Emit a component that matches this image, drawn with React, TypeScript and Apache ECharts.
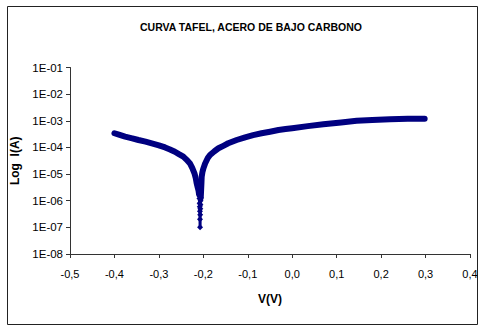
import React, { useEffect, useRef } from "react";
import * as echarts from "echarts";

const title = "CURVA TAFEL, ACERO DE BAJO CARBONO";
const xName = "V(V)";
const yName = "Log  I(A)";

// cathodic branch (left)
const leftV = [-0.4, -0.39, -0.376, -0.36, -0.346, -0.33, -0.316, -0.3, -0.286, -0.275, -0.264, -0.255, -0.245, -0.238, -0.23, -0.225, -0.22, -0.217, -0.215, -0.213, -0.211, -0.2095];
const leftI = [3.4e-4, 3.0e-4, 2.55e-4, 2.2e-4, 1.9e-4, 1.65e-4, 1.43e-4, 1.2e-4, 1.0e-4, 8.4e-5, 6.9e-5, 5.6e-5, 4.5e-5, 3.5e-5, 2.5e-5, 1.7e-5, 1.07e-5, 7e-6, 4.5e-6, 3.3e-6, 2.5e-6, 1.7e-6];

// points around the corrosion potential
const spikeV = [-0.2095, -0.2088, -0.2083, -0.208, -0.2077, -0.2075, -0.2073, -0.2071, -0.2068, -0.2065, -0.2062, -0.2058];
const spikeI = [1.7e-6, 1.2e-6, 8e-7, 6e-7, 4e-7, 2e-7, 1e-7, 3e-7, 5e-7, 7e-7, 1e-6, 1.3e-6];

// anodic branch (right)
const rightV = [-0.2058, -0.205, -0.2043, -0.2037, -0.202, -0.2, -0.196, -0.19, -0.185, -0.175, -0.166, -0.155, -0.144, -0.125, -0.106, -0.088, -0.069, -0.05, -0.031, -0.015, 0.0, 0.035, 0.07, 0.11, 0.145, 0.18, 0.22, 0.26, 0.298];
const rightI = [1.3e-6, 2.5e-6, 4.5e-6, 7.9e-6, 1.2e-5, 1.6e-5, 2.5e-5, 4e-5, 5.2e-5, 7.2e-5, 9.3e-5, 1.15e-4, 1.43e-4, 1.9e-4, 2.4e-4, 2.9e-4, 3.4e-4, 3.9e-4, 4.5e-4, 4.9e-4, 5.25e-4, 6.3e-4, 7.4e-4, 8.7e-4, 1.0e-3, 1.08e-3, 1.15e-3, 1.19e-3, 1.2e-3];

const zip = (a: number[], b: number[]) => a.map((v, i) => [v, b[i]]);

const FONT = "Liberation Sans";
const NAVY = "#000080";

export default function App() {
  const ref = useRef<HTMLDivElement>(null);
  useEffect(() => {
    if (!ref.current) return;
    const chart = echarts.init(ref.current, null, { renderer: "svg" });
    chart.setOption({
      animation: false,
      backgroundColor: "#ffffff",
      title: {
        text: title,
        left: 246,
        textAlign: "center",
        top: 16,
        textStyle: { fontFamily: FONT, fontSize: 10.5, fontWeight: "bold", color: "#000" },
      },
      graphic: [
        {
          type: "rect",
          shape: { x: 7.5, y: 6.5, width: 470, height: 318 },
          style: { fill: "none", stroke: "#222", lineWidth: 1 },
          silent: true,
        },
      ],
      grid: { left: 70, right: 13, top: 67.5, bottom: 73, containLabel: false },
      xAxis: {
        type: "value",
        min: -0.5,
        max: 0.4,
        interval: 0.1,
        name: xName,
        nameLocation: "middle",
        nameGap: 39,
        nameTextStyle: { fontFamily: FONT, fontSize: 12, fontWeight: "bold", color: "#000" },
        axisLine: { show: true, onZero: false, lineStyle: { color: "#333", width: 1 } },
        axisTick: { show: true, inside: false, length: 4, lineStyle: { color: "#333" } },
        splitLine: { show: false },
        axisLabel: {
          margin: 14,
          fontFamily: FONT,
          fontSize: 11,
          color: "#000",
          formatter: (v: number) => (Math.round(v * 10) / 10).toFixed(1).replace(".", ","),
        },
      },
      yAxis: {
        type: "log",
        logBase: 10,
        min: 1e-8,
        max: 1e-1,
        name: yName,
        nameLocation: "middle",
        nameGap: 37,
        nameRotate: 90,
        nameTextStyle: { fontFamily: FONT, fontSize: 12, fontWeight: "bold", color: "#000" },
        axisLine: { show: true, onZero: false, lineStyle: { color: "#333", width: 1 } },
        axisTick: { show: true, inside: false, length: 4, lineStyle: { color: "#333" } },
        splitLine: { show: false },
        minorTick: { show: false },
        axisLabel: {
          margin: 7,
          fontFamily: FONT,
          fontSize: 11.5,
          color: "#000",
          formatter: (v: number) => {
            const e = Math.round(Math.log10(v));
            return "1E" + (e < 0 ? "-" : "+") + String(Math.abs(e)).padStart(2, "0");
          },
        },
      },
      series: [
        {
          type: "line",
          data: zip(leftV, leftI),
          showSymbol: false,
          symbol: "none",
          lineStyle: { color: NAVY, width: 6, cap: "round", join: "round" },
          itemStyle: { color: NAVY },
          z: 3,
        },
        {
          type: "line",
          data: zip(rightV, rightI),
          showSymbol: false,
          symbol: "none",
          lineStyle: { color: NAVY, width: 6, cap: "round", join: "round" },
          itemStyle: { color: NAVY },
          z: 3,
        },
        {
          type: "line",
          data: zip(spikeV, spikeI),
          symbol: "diamond",
          symbolSize: 6,
          showSymbol: true,
          lineStyle: { color: NAVY, width: 3, cap: "round", join: "round" },
          itemStyle: { color: NAVY },
          z: 4,
        },
      ],
    });
    return () => chart.dispose();
  }, []);
  return (
    <div
      ref={ref}
      style={{ position: "fixed", left: 0, top: 0, width: 483, height: 327, background: "#fff" }}
    />
  );
}
